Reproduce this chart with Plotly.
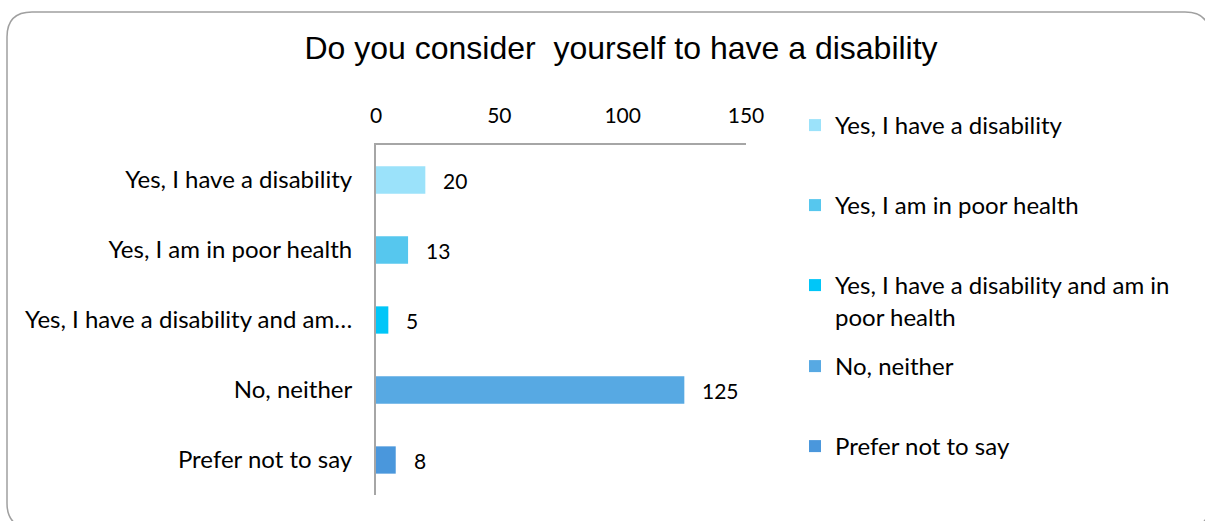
import plotly.graph_objects as go

# Survey responses
categories = [
    "Yes, I have a disability",
    "Yes, I am in poor health",
    "Yes, I have a disability and am in poor health",
    "No, neither",
    "Prefer not to say",
]
tick_labels = [
    "Yes, I have a disability",
    "Yes, I am in poor health",
    "Yes, I have a disability and am…",
    "No, neither",
    "Prefer not to say",
]
legend_names = [
    "Yes, I have a disability",
    "Yes, I am in poor health",
    "Yes, I have a disability and am in<br>poor health",
    "No, neither",
    "Prefer not to say",
]
counts = [20, 13, 5, 125, 8]
colors = ["#9BE2FA", "#56C7EE", "#00C6F8", "#57A9E3", "#4A97DC"]
x_ticks = [0, 50, 100, 150]

W, H = 1205, 521
L, R, T, B = 376, 746, 145, 495  # plot area in pixels

def px_x(p):
    return (p - L) / (R - L)

def px_y(p):
    return (B - p) / (B - T)

FONT = "Lato"
FS = 24      # category and legend text
FS_NUM = 21  # numbers

fig = go.Figure()
legend_tops = [103, 183, 263, 344, 424]
for i, (cat, val, col, name) in enumerate(zip(categories, counts, colors, legend_names)):
    lg = "legend" if i == 0 else f"legend{i + 1}"
    fig.add_trace(go.Bar(
        y=[cat], x=[val], orientation="h", name=name,
        marker=dict(color=col, line=dict(width=0)),
        width=0.39, legend=lg, hoverinfo="skip",
    ))
    fig.add_annotation(
        x=val, y=cat, text=str(val), showarrow=False,
        xanchor="left", xshift=16, font=dict(family=FONT, size=FS_NUM, color="#000000"),
    )

legend_common = dict(
    font=dict(family=FONT, size=FS, color="#000000"),
    bgcolor="rgba(0,0,0,0)", xanchor="left", yanchor="top",
    x=px_x(795), valign="top", itemwidth=30,
)
layout_legends = {}
for i, top in enumerate(legend_tops):
    key = "legend" if i == 0 else f"legend{i + 1}"
    layout_legends[key] = dict(legend_common, y=px_y(top))

# Rounded outer frame
x0, y0, x1, y1, r = 7, 12, 1210, 528, 25
path = (
    f"M {px_x(x0)},{px_y(y1 - r)} "
    f"L {px_x(x0)},{px_y(y0 + r)} Q {px_x(x0)},{px_y(y0)} {px_x(x0 + r)},{px_y(y0)} "
    f"L {px_x(x1 - r)},{px_y(y0)} Q {px_x(x1)},{px_y(y0)} {px_x(x1)},{px_y(y0 + r)} "
    f"L {px_x(x1)},{px_y(y1 - r)} Q {px_x(x1)},{px_y(y1)} {px_x(x1 - r)},{px_y(y1)} "
    f"L {px_x(x0 + r)},{px_y(y1)} Q {px_x(x0)},{px_y(y1)} {px_x(x0)},{px_y(y1 - r)} Z"
)

fig.update_layout(
    width=W, height=H,
    margin=dict(l=L, r=W - R, t=T, b=H - B, pad=0),
    paper_bgcolor="#FFFFFF", plot_bgcolor="#FFFFFF",
    barmode="relative",
    showlegend=True,
    title=dict(
        text="Do you consider  yourself to have a disability",
        font=dict(family="Liberation Sans", size=32, color="#000000"),
        x=621 / W, xanchor="center",
        y=1 - 48 / H, yanchor="middle",
    ),
    xaxis=dict(
        side="top", range=[0, 150], tickvals=x_ticks,
        showgrid=False, zeroline=False, ticks="",
        showline=True, linecolor="#A6A6A6", linewidth=2,
        tickfont=dict(family=FONT, size=FS_NUM, color="#000000"),
        ticklabelstandoff=12, fixedrange=True,
    ),
    yaxis=dict(
        type="category", categoryorder="array", categoryarray=categories,
        autorange="reversed",
        tickvals=categories, ticktext=tick_labels,
        showgrid=False, zeroline=False, ticks="",
        showline=True, linecolor="#A6A6A6", linewidth=2,
        tickfont=dict(family=FONT, size=FS, color="#000000"),
        ticklabelstandoff=17, fixedrange=True,
    ),
    shapes=[dict(type="path", path=path, xref="paper", yref="paper",
                 line=dict(color="#A0A0A0", width=1.5), fillcolor="rgba(0,0,0,0)",
                 layer="below")],
    **layout_legends,
)

fig.write_html("out.html")
